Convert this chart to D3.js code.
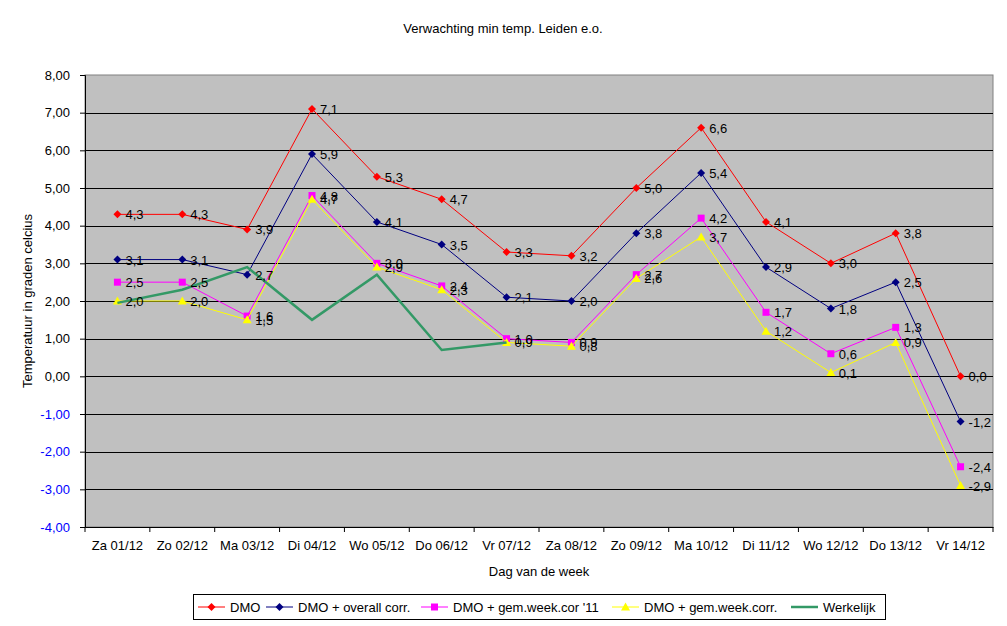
<!DOCTYPE html>
<html><head><meta charset="utf-8">
<script src="https://cdn.jsdelivr.net/npm/d3@7"></script>
<style>body{margin:0;background:#fff;} svg{display:block;font-family:"Liberation Sans",Arial,sans-serif;}</style>
</head><body>
<svg id="c" width="1007" height="626"></svg>
<script>
const categories = ["Za 01/12","Zo 02/12","Ma 03/12","Di 04/12","Wo 05/12","Do 06/12","Vr 07/12","Za 08/12","Zo 09/12","Ma 10/12","Di 11/12","Wo 12/12","Do 13/12","Vr 14/12"];
const dmo = [4.3,4.3,3.9,7.1,5.3,4.7,3.3,3.2,5.0,6.6,4.1,3.0,3.8,0.0];
const dmoOverall = [3.1,3.1,2.7,5.9,4.1,3.5,2.1,2.0,3.8,5.4,2.9,1.8,2.5,-1.2];
const dmoWeek11 = [2.5,2.5,1.6,4.8,3.0,2.4,1.0,0.9,2.7,4.2,1.7,0.6,1.3,-2.4];
const dmoWeek = [2.0,2.0,1.5,4.7,2.9,2.3,0.9,0.8,2.6,3.7,1.2,0.1,0.9,-2.9];
const werkelijk = [1.95,2.3,2.9,1.5,2.7,0.7,0.9];
const yTicks = [-4,-3,-2,-1,0,1,2,3,4,5,6,7,8];
const seriesNames = ["DMO","DMO + overall corr.","DMO + gem.week.cor '11","DMO + gem.week.corr.","Werkelijk"];

const series = [
  {name:seriesNames[0], values:dmo, color:"#FF0000", marker:"diamond", labels:true, width:1},
  {name:seriesNames[1], values:dmoOverall, color:"#000080", marker:"diamond", labels:true, width:1},
  {name:seriesNames[2], values:dmoWeek11, color:"#FF00FF", marker:"square", labels:true, width:1},
  {name:seriesNames[3], values:dmoWeek, color:"#FFFF00", marker:"triangle", labels:true, width:1},
  {name:seriesNames[4], values:werkelijk, color:"#339966", marker:null, labels:false, width:2.5}
];

const FS = "13px";
const svg = d3.select("#c");
const L=85, R=993, T=75, B=527;
const x = d3.scaleBand().domain(categories).range([L,R]);
const y = d3.scaleLinear().domain([-4,8]).range([B,T]);
const fmt = v => v.toFixed(2).replace(".",",");
const fmt1 = v => v.toFixed(1).replace(".",",");

svg.append("rect").attr("x",L).attr("y",T).attr("width",R-L).attr("height",B-T).attr("fill","#C0C0C0").attr("stroke","#808080").attr("stroke-width",1);

// gridlines
svg.append("g").selectAll("line").data(yTicks.filter(t=>t>-4 && t<8)).join("line")
  .attr("x1",L).attr("x2",R).attr("y1",d=>Math.round(y(d))+0.5).attr("y2",d=>Math.round(y(d))+0.5)
  .attr("stroke","#000").attr("stroke-width",1);

// y axis
const ya = svg.append("g").attr("transform",`translate(${L},0)`)
  .call(d3.axisLeft(y).tickValues(yTicks).tickFormat(fmt).tickSize(5).tickPadding(10));
ya.select(".domain").attr("stroke","#000");
ya.selectAll(".tick line").attr("stroke","#000");
ya.selectAll(".tick text").attr("font-size",FS).attr("font-family","Liberation Sans, Arial, sans-serif")
  .attr("fill",d=>d<0?"#0000FF":"#000");

// x axis
const xa = svg.append("g").attr("transform",`translate(0,${B})`)
  .call(d3.axisBottom(x).tickSize(0).tickPadding(14));
xa.select(".domain").attr("stroke","#000");
xa.selectAll(".tick text").attr("font-size",FS).attr("font-family","Liberation Sans, Arial, sans-serif").attr("fill","#000");
// category boundary ticks
svg.append("g").selectAll("line").data(categories.concat(["__end"])).join("line")
  .attr("x1",(d,i)=>i<categories.length?x(d):R).attr("x2",(d,i)=>i<categories.length?x(d):R)
  .attr("y1",B).attr("y2",B+5).attr("stroke","#000");

const cx = i => x(categories[i]) + x.bandwidth()/2;

function drawMarker(g, type, color, px, py){
  if(type==="diamond"){
    g.append("path").attr("d",`M${px},${py-4}L${px+4},${py}L${px},${py+4}L${px-4},${py}Z`)
      .attr("fill",color);
  } else if(type==="square"){
    g.append("rect").attr("x",px-3.5).attr("y",py-3.5).attr("width",7).attr("height",7).attr("fill",color);
  } else if(type==="triangle"){
    g.append("path").attr("d",`M${px},${py-4.5}L${px+4.5},${py+3.5}L${px-4.5},${py+3.5}Z`).attr("fill",color);
  }
}

const line = d3.line().x((d,i)=>cx(i)).y(d=>y(d));
series.forEach(s=>{
  const g = svg.append("g");
  g.append("path").datum(s.values).attr("d",line).attr("fill","none").attr("stroke",s.color).attr("stroke-width",s.width);
  if(s.marker) s.values.forEach((v,i)=>drawMarker(g,s.marker,s.color,cx(i),y(v)));
});
series.forEach(s=>{
  if(!s.labels) return;
  svg.append("g").selectAll("text").data(s.values).join("text")
    .attr("x",(d,i)=>cx(i)+8).attr("y",d=>y(d)+5)
    .attr("font-size",FS).attr("fill","#000").text(d=>fmt1(d));
});

// titles
svg.append("text").attr("x",503).attr("y",33).attr("text-anchor","middle").attr("font-size",FS).text("Verwachting min temp. Leiden e.o.");
svg.append("text").attr("x",(L+R)/2).attr("y",576).attr("text-anchor","middle").attr("font-size",FS).text("Dag van de week");
svg.append("text").attr("transform",`translate(32,${(T+B)/2}) rotate(-90)`).attr("text-anchor","middle").attr("font-size",FS).text("Temperatuur in graden celcius");

// legend
const lg = svg.append("g");
lg.append("rect").attr("x",193.5).attr("y",594.5).attr("width",692).attr("height",25).attr("fill","#fff").attr("stroke","#000");
const lx = [198,266,421,612,791];
series.forEach((s,i)=>{
  const ly = 607;
  lg.append("line").attr("x1",lx[i]).attr("x2",lx[i]+27).attr("y1",ly).attr("y2",ly).attr("stroke",s.color).attr("stroke-width",s.width);
  if(s.marker) drawMarker(lg,s.marker,s.color,lx[i]+13.5,ly);
  lg.append("text").attr("x",lx[i]+32).attr("y",ly+4.5).attr("font-size",FS).text(s.name);
});
</script>
</body></html>
